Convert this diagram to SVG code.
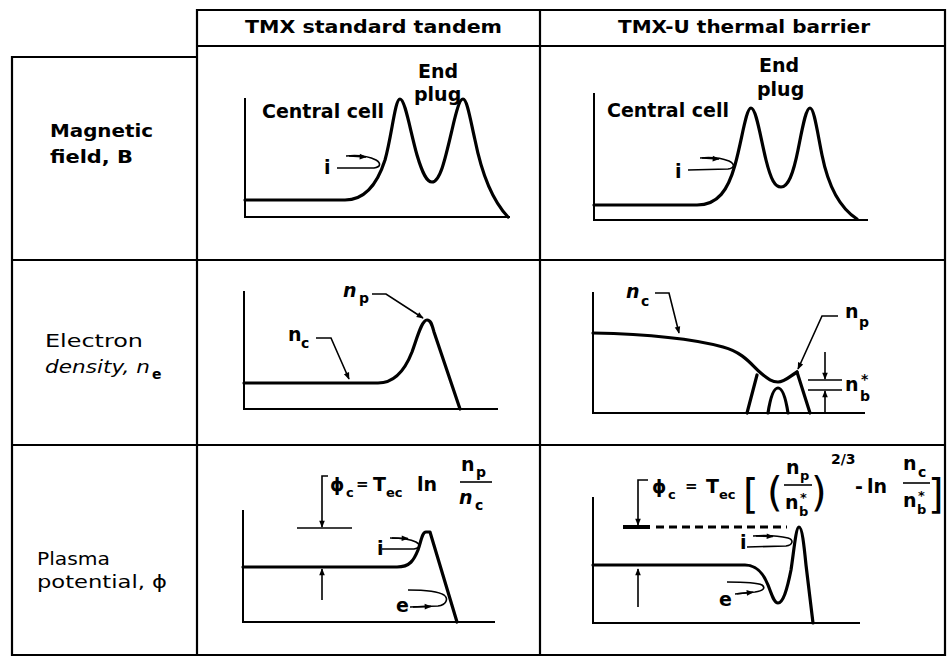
<svg xmlns="http://www.w3.org/2000/svg" width="947" height="658" viewBox="0 0 947 658">
<style>
.grid{stroke:#000;stroke-width:2.2;fill:none;stroke-linecap:square}
.axis{stroke:#000;stroke-width:2;fill:none}
.curve{stroke:#000;stroke-width:3.2;fill:none;stroke-linejoin:round;stroke-linecap:round}
.lead{stroke:#000;stroke-width:1.6;fill:none}
.arr{stroke:#000;stroke-width:1.6;fill:none;marker-end:url(#ah)}
text{font-family:"DejaVu Sans","Liberation Sans",sans-serif;fill:#000}
.hdr{font-size:18px;font-weight:bold}
.lbl{font-size:18px}
.pl{font-size:19px;font-weight:bold}
.phi{font-size:18px;font-weight:bold}
.eq{font-size:15px;font-weight:bold}
.sub{font-size:14px;font-weight:bold}
.sm{font-size:13px;font-weight:bold}
.big{font-size:40px;font-weight:normal}
</style>
<defs>
<marker id="ah" viewBox="0 0 10 10" refX="9" refY="5" markerWidth="8" markerHeight="7" orient="auto" markerUnits="userSpaceOnUse"><path d="M0,1 L10,5 L0,9 z" fill="#000"/></marker>
</defs>
<rect width="947" height="658" fill="#fff"/>
<g id="table">
<path class="grid" d="M197,10 L945,10 M197,46 L945,46 M12,57 L197,57 M12,260 L945,260 M12,445 L945,445 M12,655 L945,655 M12,57 L12,655 M197,10 L197,655 M540,10 L540,655 M945,10 L945,655"/>
</g>
<g id="header-tmx"><text class="hdr" x="245" y="33" textLength="257" lengthAdjust="spacingAndGlyphs">TMX standard tandem</text></g>
<g id="header-tmxu"><text class="hdr" x="618" y="33" textLength="252" lengthAdjust="spacingAndGlyphs">TMX-U thermal barrier</text></g>
<g id="label-magnetic">
<text class="lbl" font-weight="bold" x="50" y="137" textLength="103" lengthAdjust="spacingAndGlyphs">Magnetic</text>
<text class="lbl" font-weight="bold" x="50" y="163" textLength="83" lengthAdjust="spacingAndGlyphs">field, B</text>
</g>
<g id="label-density">
<text class="lbl" x="45" y="347" textLength="98" lengthAdjust="spacingAndGlyphs">Electron</text>
<text class="lbl" x="45" y="373" font-style="italic" textLength="105" lengthAdjust="spacingAndGlyphs">density, n</text>
<text class="sub" font-weight="normal" x="152" y="379">e</text>
</g>
<g id="label-potential">
<text class="lbl" x="37" y="565" textLength="73" lengthAdjust="spacingAndGlyphs">Plasma</text>
<text class="lbl" x="37" y="588" textLength="130" lengthAdjust="spacingAndGlyphs">potential, ϕ</text>
</g>
<g id="panel-b-tmx">
<path class="axis" d="M245,98 L245,217 L510,217"/>
<path class="curve" d="M245,200 L345,200 C365,200 377,185 385,160 C392,135 395,99 400,99 C405,99 410,130 417,155 C423,175 427,182 432,182 C440,182 445,160 452,130 C457,108 460,99 463,99 C467,99 470,118 475,140 C482,175 492,200 508,217"/>
<text class="pl" x="262" y="118">Central cell</text>
<text class="pl" x="418" y="78">End</text>
<text class="pl" x="414" y="101">plug</text>
<text class="pl" x="324" y="174">i</text>
</g>
<g id="panel-b-tmxu">
<path class="axis" d="M594,93 L594,220 L868,220"/>
<path class="curve" d="M594,205 L697,205 C718,205 728,190 735,165 C742,140 746,108 751,108 C756,108 760,135 766,160 C771,180 775,187 781,187 C788,187 793,175 798,150 C803,125 806,108 810,108 C814,108 817,130 822,155 C828,185 840,208 857,219"/>
<text class="pl" x="607" y="117">Central cell</text>
<text class="pl" x="759" y="72">End</text>
<text class="pl" x="757" y="96">plug</text>
<text class="pl" x="675" y="178">i</text>
</g>
<g id="panel-n-tmx">
<path class="axis" d="M244,291 L244,409 L498,409"/>
<path class="curve" d="M244,383 L378,383 C395,383 405,370 412,352 C418,335 422,320 427,320 C431,320 432,325 434,332 L460,409"/>
<text class="pl" x="288" y="341">n</text><text class="sub" x="301" y="348">c</text>
<text class="pl" font-style="italic" x="343" y="297">n</text><text class="sub" x="359" y="303">p</text>
</g>
<g id="panel-n-tmxu">
<path class="axis" d="M593,292 L593,413 L865,413"/>
<path class="curve" d="M593,333 C640,334 690,338 723,347 C745,353 752,366 762,374 C768,379 772,382 778,382 C785,382 790,376 797,372"/>
<path class="curve" d="M747,413 L757,375 M797,372 L810,413 M768,413 C770,400 773,388 778,388 C783,388 786,400 788,413"/>
<path class="lead" d="M808,380 L842,380 M808,390 L842,390"/>
<text class="pl" font-style="italic" x="626" y="298">n</text><text class="sub" x="641" y="306">c</text>
<text class="pl" x="845" y="318">n</text><text class="sub" x="859" y="327">p</text>
<text class="pl" x="845" y="391">n</text><text class="sub" x="860" y="401">b</text><text class="sub" x="861" y="384">*</text>
</g>
<g id="panel-phi-tmx">
<path class="axis" d="M243,510 L243,622 L495,622"/>
<path class="curve" d="M243,567 L397,567 C410,567 414,560 418,550 C421,542 422,532 426,532 L430,532 L457,622"/>
<path class="lead" d="M297,528 L352,528"/>
<text class="phi" x="330" y="491">ϕ</text><text class="sm" x="346" y="497">c</text>
<text class="eq" x="356" y="489">=</text>
<text class="pl" x="373" y="491">T</text><text class="sm" x="386" y="497">ec</text>
<text class="pl" x="417" y="491">ln</text>
<text class="pl" x="461" y="471">n</text><text class="sub" x="476" y="477">p</text>
<path class="lead" d="M460,482 L492,482"/>
<text class="pl" font-style="italic" x="459" y="504">n</text><text class="sub" x="475" y="510">c</text>
<text class="pl" x="377" y="555">i</text>
<text class="pl" x="396" y="612">e</text>
</g>
<g id="panel-phi-tmxu">
<path class="axis" d="M593,497 L593,623 L860,623"/>
<path class="curve" d="M593,565 L745,565 C758,565 764,575 768,585 C772,595 774,603 778,603 C783,603 787,590 791,570 C794,550 796,527 799,527 C802,527 804,545 806,565 L813,623"/>
<path d="M623,527 L650,527" stroke="#000" stroke-width="4"/>
<path d="M656,527 L787,527" stroke="#000" stroke-width="3" stroke-dasharray="8,5"/>
<text class="phi" x="652" y="493">ϕ</text><text class="sm" x="668" y="499">c</text>
<text class="eq" x="685" y="491">=</text>
<text class="pl" x="706" y="493">T</text><text class="sm" x="719" y="499">ec</text>
<text class="big" x="743" y="508">[</text>
<text class="big" x="767" y="506">(</text>
<text class="pl" x="786" y="474">n</text><text class="sm" x="800" y="480">p</text>
<path class="lead" d="M784,485 L812,485"/>
<text class="pl" x="785" y="509">n</text><text class="sm" x="799" y="516">b</text><text class="sm" x="800" y="502">*</text>
<text class="big" x="811" y="506">)</text>
<text class="sub" x="831" y="464">2/3</text>
<text class="pl" x="855" y="493">-</text>
<text class="pl" x="867" y="493">ln</text>
<text class="pl" x="903" y="470">n</text><text class="sub" x="918" y="477">c</text>
<path class="lead" d="M903,483 L930,483"/>
<text class="pl" x="903" y="507">n</text><text class="sm" x="917" y="514">b</text><text class="sm" x="918" y="500">*</text>
<text class="big" x="928" y="508">]</text>
<text class="pl" x="740" y="549">i</text>
<text class="pl" x="719" y="606">e</text>
</g>
<g id="connectors">
<path class="lead" d="M337,168 L374,168 C381,167 381,163 376,160 C368,156 356,155 346,156"/>
<path class="arr" d="M349,156 L366,157"/>
<path class="lead" d="M688,170 L728,169 C735,168 735,164 729,161 C721,158 710,157 700,158"/>
<path class="arr" d="M702,158 L719,159"/>
<path class="arr" d="M316,338 L331,338 L349,379"/>
<path class="arr" d="M372,294 L386,294 L423,318"/>
<path class="arr" d="M655,293 L669,293 L679,333"/>
<path class="arr" d="M838,316 L822,316 L798,369"/>
<path class="arr" d="M825,352 L825,379"/>
<path class="arr" d="M825,413 L825,391"/>
<path class="arr" d="M328,476 L322,476 L322,527"/>
<path class="arr" d="M322,600 L322,569"/>
<path class="lead" d="M382,549 L414,549 C420,548 421,545 416,542 C410,539 400,538 390,538"/>
<path class="arr" d="M392,538 L408,538.5"/>
<path class="lead" d="M410,607 L438,606 C446,605 449,599 444,595 C438,591 424,590 408,590"/>
<path class="arr" d="M413,607 L431,606.4"/>
<path class="arr" d="M648,480 L638,480 L638,525"/>
<path class="arr" d="M638,607 L638,569"/>
<path class="lead" d="M747,547 L786,546 C793,545 794,540 788,538 C780,536 765,535 753,536"/>
<path class="arr" d="M756,536 L773,536.5"/>
<path class="lead" d="M735,594 L755,592 C763,591 766,588 762,585 C756,582 742,582 727,582"/>
<path class="arr" d="M737,593.8 L753,592.3"/>
</g>
</svg>
